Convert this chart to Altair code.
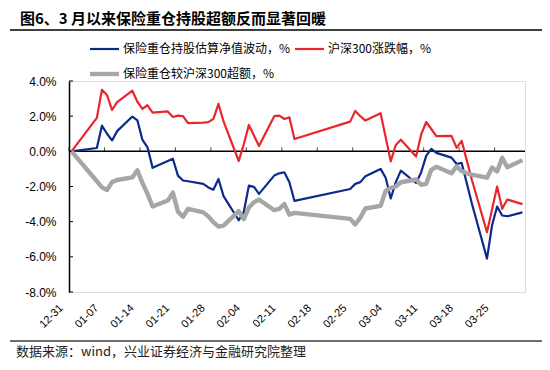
import altair as alt
import pandas as pd

TITLE = "图6、3 月以来保险重仓持股超额反而显著回暖"
SOURCE = "数据来源：wind，兴业证券经济与金融研究院整理"

dates = [
    "2025-12-31",
    "2026-01-05", "2026-01-06", "2026-01-07", "2026-01-08", "2026-01-09",
    "2026-01-12", "2026-01-13", "2026-01-14", "2026-01-15", "2026-01-16",
    "2026-01-19", "2026-01-20", "2026-01-21", "2026-01-22", "2026-01-23",
    "2026-01-26", "2026-01-27", "2026-01-28", "2026-01-29", "2026-01-30",
    "2026-02-02", "2026-02-03", "2026-02-04", "2026-02-05", "2026-02-06",
    "2026-02-09", "2026-02-10", "2026-02-11", "2026-02-12", "2026-02-13",
    "2026-02-24", "2026-02-25", "2026-02-26", "2026-02-27",
    "2026-03-02", "2026-03-03", "2026-03-04", "2026-03-05", "2026-03-06",
    "2026-03-09", "2026-03-10", "2026-03-11", "2026-03-12", "2026-03-13",
    "2026-03-16", "2026-03-17", "2026-03-18", "2026-03-19", "2026-03-20",
    "2026-03-23", "2026-03-24", "2026-03-25", "2026-03-26", "2026-03-27",
    "2026-03-30",
]

# 保险重仓持股估算净值波动，%
nav_change = [
    0.0,
    0.19, 1.46, 1.0, 0.62, 1.15,
    1.98, 1.76, 0.65, 0.22, -0.94,
    -0.55, -0.42, -1.38, -1.66, -1.7,
    -1.85, -2.05, -2.18, -1.57, -2.55,
    -3.92, -3.45, -1.95, -2.02, -2.42,
    -1.38, -1.25, -1.19, -1.76, -2.82,
    -2.14, -1.85, -1.75, -1.42,
    -1.0, -1.5, -2.68, -1.75, -1.1,
    -1.8, -1.2, -0.26, 0.14, -0.09,
    -0.36, -0.72, -0.66, -1.8, -2.95,
    -6.1, -4.2, -3.14, -3.65, -3.69,
    -3.47,
]

# 沪深300涨跌幅，%
hs300_change = [
    0.0,
    1.9, 3.5, 3.2, 2.35, 2.8,
    3.45, 2.82, 2.42, 2.62, 2.2,
    2.27, 1.95, 2.03, 2.0, 1.6,
    1.63, 1.66, 1.85, 2.7, 1.7,
    -0.55, 0.4, 1.5, 0.9, 0.3,
    2.0, 2.03, 1.84, 1.93, 0.7,
    1.69, 2.3, 2.0, 1.75,
    2.17, 0.8, -0.57, 0.36, 0.66,
    -0.3, 0.95, 1.67, 1.27, 0.87,
    0.88, 0.2, 0.6, -0.5, -1.6,
    -4.6, -3.3, -2.0, -3.27, -2.74,
    -3.0,
]

# 保险重仓较沪深300超额，%
excess = [
    0.0,
    -1.7, -2.05, -2.2, -1.75, -1.63,
    -1.48, -1.08, -1.8, -2.42, -3.14,
    -2.8, -2.35, -3.43, -3.72, -3.27,
    -3.47, -3.7, -4.03, -4.28, -4.22,
    -3.4, -3.85, -3.2, -2.9, -2.74,
    -3.35, -3.27, -3.0, -3.6, -3.5,
    -3.84, -4.16, -3.77, -3.25,
    -3.1, -2.25, -2.08, -2.0, -1.76,
    -1.6, -1.9, -1.85, -1.05, -0.88,
    -1.25, -0.85, -1.12, -1.25, -1.32,
    -1.5, -0.92, -1.14, -0.36, -0.9,
    -0.5,
]

series_names = ["保险重仓持股估算净值波动，%", "沪深300涨跌幅，%", "保险重仓较沪深300超额，%"]
series_fields = ["nav", "hs300", "excess"]
series_colors = ["#0b2a8c", "#e8262b", "#a6a6a6"]
series_widths = [2.2, 2.2, 4.4]

x_tick_labels = ["12-31", "01-07", "01-14", "01-21", "01-28", "02-04", "02-11",
                 "02-18", "02-25", "03-04", "03-11", "03-18", "03-25"]
y_ticks = [-8, -6, -4, -2, 0, 2, 4]

W, H = 456, 211
CJK = "Noto Sans CJK SC"
LATIN = "Liberation Sans"
HALF_DAY = 43200000


def ms(s):
    return int(pd.Timestamp(s, tz="UTC").value // 10**6)


tick_ms = [ms(("2025-" if lab.startswith("12") else "2026-") + lab) - HALF_DAY for lab in x_tick_labels]
x_domain = [ms(dates[0]) - HALF_DAY, ms(dates[-1]) + HALF_DAY]

df = pd.DataFrame({"date": dates, "nav": nav_change, "hs300": hs300_change, "excess": excess})

x_scale = alt.Scale(type="utc", domain=x_domain)
x_axis = alt.Axis(
    values=tick_ms,
    labelExpr="utcFormat(time(datum.value) + 43200000, '%m-%d')",
    labelAngle=-45, labelAlign="right", labelBaseline="middle",
    labelPadding=14, labelOffset=-8,
    ticks=False, domain=False, grid=False, title=None,
    labelFont=LATIN, labelFontSize=11, labelColor="#000",
    labelOverlap=False, labelFlush=False, labelBound=False,
)

y_axis = alt.Axis(
    values=y_ticks,
    labelExpr="(datum.value < 0 ? '-' : '') + format(abs(datum.value), '.1f') + '%'",
    ticks=False, grid=False, domainColor="#000", domainWidth=1.5,
    labelPadding=13, labelFontSize=12, labelFont=LATIN, labelColor="#000", title=None,
    labelOverlap=False, labelFlush=False, labelBound=False,
)
y_scale = alt.Scale(domain=[-8, 4], nice=False, zero=False)

base = alt.Chart(df)
one = pd.DataFrame({"k": [0]})

# horizontal axis line at zero
zero_line = alt.Chart(one).mark_rule(color="#000", strokeWidth=1.5).encode(
    y=alt.Y("k:Q", scale=y_scale, axis=y_axis), x=alt.value(0), x2=alt.value(W)
)

# weekly tick marks pointing up from the zero line
x_ticks = alt.Chart(pd.DataFrame({"t": tick_ms, "k": [0] * len(tick_ms)})).mark_tick(
    orient="vertical", size=4, thickness=1, yOffset=-2, color="#000"
).encode(x=alt.X("t:T", scale=x_scale, axis=x_axis), y=alt.Y("k:Q", scale=y_scale, axis=y_axis))

# y tick marks pointing into the plot
y_tick_marks = alt.Chart(pd.DataFrame({"v": y_ticks})).mark_rule(color="#000", strokeWidth=1).encode(
    y=alt.Y("v:Q", scale=y_scale, axis=y_axis), x=alt.value(0), x2=alt.value(4)
)

lines = []
for field, color, width in zip(series_fields, series_colors, series_widths):
    lines.append(
        base.mark_line(color=color, strokeWidth=width, strokeJoin="round").encode(
            x=alt.X("date:T", scale=x_scale, axis=x_axis),
            y=alt.Y(f"{field}:Q", scale=y_scale, axis=y_axis),
        )
    )

title_text = alt.Chart(pd.DataFrame({"t": [TITLE]})).mark_text(
    align="left", baseline="middle", font=CJK, fontSize=15, fontWeight="bold", color="#000"
).encode(x=alt.value(-49), y=alt.value(-62.5), text="t:N")

title_rule = alt.Chart(one).mark_rule(color="#404040", strokeWidth=1.8).encode(
    x=alt.value(-59), x2=alt.value(W + 17), y=alt.value(-51)
)

source_rule = alt.Chart(one).mark_rule(color="#404040", strokeWidth=1.5).encode(
    x=alt.value(-59), x2=alt.value(W + 17), y=alt.value(260)
)

source_text = alt.Chart(pd.DataFrame({"t": [SOURCE]})).mark_text(
    align="left", baseline="middle", font=CJK, fontSize=13, color="#222"
).encode(x=alt.value(-53), y=alt.value(271), text="t:N")

# legend
legend_pos = [(21, -32), (226, -32), (21, -7)]
legend_layers = []
for name, color, width, (lx, ly) in zip(series_names, series_colors, series_widths, legend_pos):
    legend_layers.append(
        alt.Chart(one).mark_rule(color=color, strokeWidth=width).encode(
            x=alt.value(lx), x2=alt.value(lx + 29), y=alt.value(ly)
        )
    )
    legend_layers.append(
        alt.Chart(pd.DataFrame({"t": [name]})).mark_text(
            align="left", baseline="middle", font=CJK, fontSize=12, color="#000"
        ).encode(x=alt.value(lx + 33), y=alt.value(ly), text="t:N")
    )

chart = alt.layer(
    zero_line, x_ticks, y_tick_marks, *lines,
    title_text, title_rule, source_rule, source_text, *legend_layers,
).properties(
    width=W, height=H,
    autosize=alt.AutoSizeParams(type="none"),
    padding={"left": 61, "top": 73, "right": 17, "bottom": 70},
).configure_view(stroke=None).configure(background="white")

chart.save("out.html", embed_options={"renderer": "svg", "actions": False})
